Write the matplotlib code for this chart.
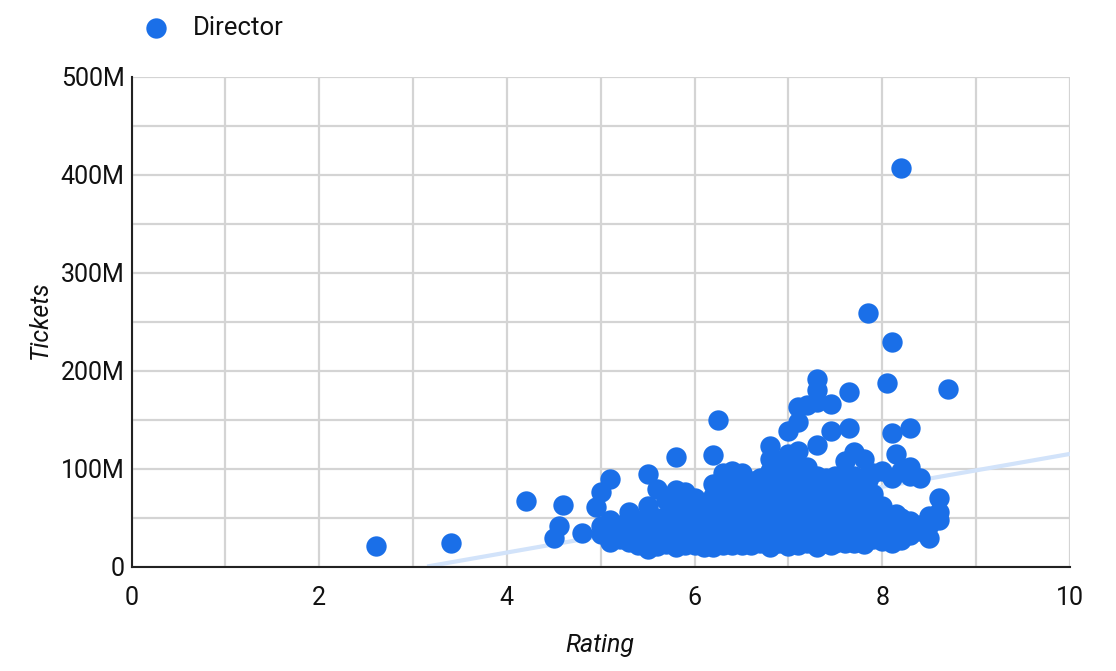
import matplotlib
matplotlib.use("Agg")
import matplotlib.pyplot as plt
from matplotlib.ticker import FuncFormatter, MultipleLocator

# tickets in millions, one list per rating
ratings = [2.6, 3.4, 4.2, 4.5, 4.55, 4.6, 4.8, 4.95, 5.0, 5.1, 5.2, 5.3, 5.4, 5.5, 5.6, 5.7, 5.8, 5.9,
           6.0, 6.1, 6.2, 6.25, 6.3, 6.4, 6.5, 6.6, 6.7, 6.8, 6.9, 7.0, 7.1, 7.2, 7.3, 7.4, 7.45, 7.5, 7.6, 7.65,
           7.7, 7.8, 7.85, 7.9, 8.0, 8.05, 8.1, 8.15, 8.2, 8.3, 8.4, 8.5, 8.6, 8.7]
tickets = [
    [21], [24], [67], [29], [41], [63], [34], [61],
    [76, 41, 33], [89, 47, 36, 25], [42, 34, 28], [56, 40, 32, 25], [47, 38, 30, 22],
    [94, 62, 44, 36, 28, 18], [79, 50, 40, 30, 21], [68, 52, 42, 32, 23], [112, 78, 68, 58, 46, 36, 28, 20],
    [76, 66, 56, 46, 36, 28, 22], [70, 60, 50, 40, 30, 22], [65, 54, 44, 34, 26, 20],
    [114, 84, 72, 62, 52, 42, 32, 24, 20], [150], [95, 76, 66, 56, 46, 36, 28, 22],
    [98, 84, 74, 64, 54, 44, 34, 26, 22], [96, 84, 74, 64, 54, 44, 34, 26, 22], [87, 78, 68, 58, 48, 38, 30, 22],
    [90, 80, 70, 60, 50, 40, 32, 24], [123, 110, 98, 88, 78, 68, 58, 48, 38, 30, 20],
    [108, 98, 88, 78, 68, 58, 48, 38, 30, 24],
    [138, 115, 100, 90, 80, 70, 60, 50, 40, 30, 21], [163, 148, 118, 105, 94, 84, 74, 64, 54, 44, 34, 26, 22],
    [165, 102, 92, 82, 72, 62, 52, 42, 32, 24], [192, 180, 168, 124, 92, 82, 72, 62, 52, 42, 32, 24, 20],
    [90, 80, 70, 60, 50, 40, 30, 24],
    [166, 138, 86, 76, 66, 56, 46, 36, 26, 22], [92, 82, 72, 62, 52, 42, 32, 24], [108, 88, 78, 68, 58, 48, 38, 28, 24],
    [178, 141, 80, 70, 60, 50, 40, 30],
    [117, 92, 82, 72, 62, 52, 42, 32, 24], [110, 90, 84, 74, 64, 54, 44, 34, 23], [259, 88, 76, 66, 56, 44, 32],
    [95, 74, 44, 36, 28], [98, 62, 48, 40, 32, 26], [187, 38, 30], [229, 136, 90, 52, 44, 36, 24], [115, 54, 46, 38, 30],
    [407, 98, 50, 42, 34, 27], [141, 102, 92, 46, 38, 32], [90, 42, 36], [52, 42, 29], [70, 56, 48], [181],
]
trend_x = [3.15, 10]
trend_y = [0, 115]

x_ticks = [0, 2, 4, 6, 8, 10]
y_ticks = [0, 100, 200, 300, 400, 500]

plt.rcParams['font.family'] = ['Roboto', 'DejaVu Sans']

W, H = 1116, 671
fig = plt.figure(figsize=(W / 100, H / 100), dpi=100)
ax = fig.add_axes([131.5 / W, 1 - 566.5 / H, (1070 - 131.5) / W, (566.5 - 77) / H])

xs = [r for r, vals in zip(ratings, tickets) for v in vals]
ys = [v for vals in tickets for v in vals]

ax.plot(trend_x, trend_y, color='#d2e3fa', lw=3, zorder=2, solid_capstyle='butt')
dots = ax.scatter(xs, ys, s=215, color='#1a6fe8', linewidths=0, zorder=3, clip_on=False, label='Director')

ax.set_xlim(0, 10)
ax.set_ylim(0, 500)
ax.xaxis.set_major_locator(MultipleLocator(1))
ax.yaxis.set_major_locator(MultipleLocator(50))
ax.set_axisbelow(True)
ax.grid(True, color='#d4d4d4', lw=1.6)
ax.tick_params(length=0, labelsize=18, labelcolor='#111111')
ax.tick_params(axis='x', pad=14)
ax.tick_params(axis='y', pad=5)


def x_label(v, pos):
    return f'{v:g}' if v in x_ticks else ''


def y_label(v, pos):
    if v == 0:
        return '0'
    return f'{v:g}M' if v in y_ticks else ''


ax.xaxis.set_major_formatter(FuncFormatter(x_label))
ax.yaxis.set_major_formatter(FuncFormatter(y_label))

for side in ['top', 'right']:
    ax.spines[side].set_visible(False)
for side in ['left', 'bottom']:
    ax.spines[side].set_color('#222222')
    ax.spines[side].set_linewidth(1.5)
    ax.spines[side].set_zorder(2.5)

fig.text(600 / W, 1 - 645 / H, 'Rating', style='italic', fontsize=18, ha='center', va='center', color='#111111')
fig.text(40 / W, 1 - 320 / H, 'Tickets', style='italic', fontsize=18, rotation=90, ha='center', va='center',
         color='#111111')

fig.legend(handles=[dots], loc='center left', bbox_to_anchor=(130 / W, 1 - 28 / H), frameon=False, fontsize=18.5,
           labelcolor='#111111', handletextpad=0.45, borderpad=0, borderaxespad=0)

fig.savefig('out.png', dpi=100)
